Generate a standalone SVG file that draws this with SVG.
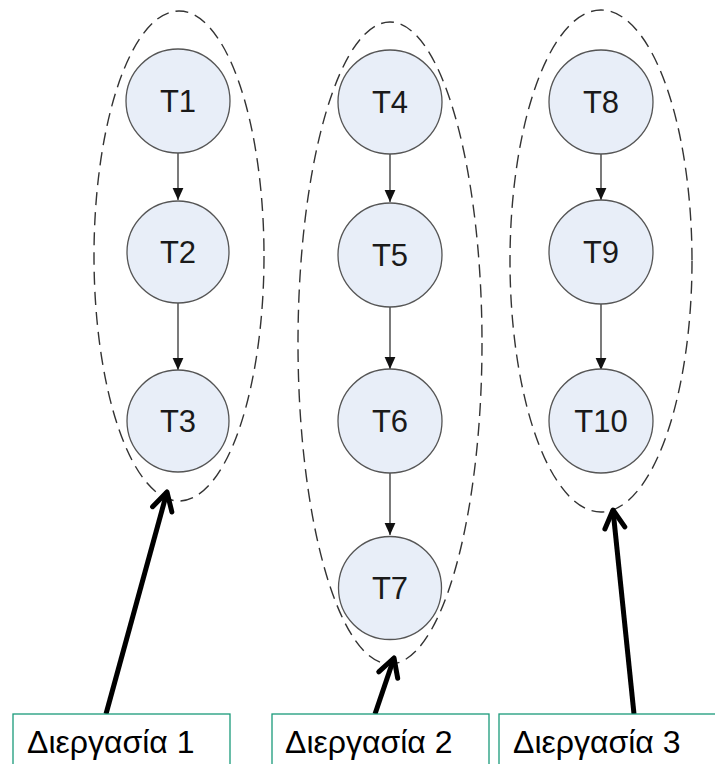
<svg xmlns="http://www.w3.org/2000/svg" width="715" height="764" viewBox="0 0 715 764">
<defs>
<style>
.node circle{fill:#e8eef8;stroke:#555;stroke-width:1.3}
.node text{font-family:"Liberation Sans",Arial,sans-serif;font-size:31px;fill:#1a1a1a;text-anchor:middle}
.group ellipse{fill:none;stroke:#333;stroke-width:1.4;stroke-dasharray:13 7}
.edge{stroke:#333;stroke-width:1.3;fill:none;marker-end:url(#ah)}
.ptr{stroke:#000;stroke-width:5;fill:none;marker-end:url(#chev)}
.label rect{fill:#fff;stroke:#1a9a7a;stroke-width:1.3}
.label text{font-family:"Liberation Sans",Arial,sans-serif;font-size:32px;fill:#000}
</style>
<marker id="ah" markerUnits="userSpaceOnUse" markerWidth="12" markerHeight="12" viewBox="-10 -5 10 10" refX="0" refY="0" orient="auto">
<path d="M-10,-4.5 L0,0 L-10,4.5 Z" fill="#111"/>
</marker>
<marker id="chev" markerUnits="userSpaceOnUse" markerWidth="30" markerHeight="30" viewBox="-22 -15 26 30" refX="0" refY="0" orient="auto">
<path d="M-18,-10 L0,0 L-18,10" fill="none" stroke="#000" stroke-width="5" stroke-linecap="round" stroke-linejoin="round"/>
</marker>
</defs>
<rect width="715" height="764" fill="#fff"/>
<g id="groups" class="group">
<ellipse id="process1-outline" cx="179" cy="256" rx="85" ry="245"/>
<ellipse id="process2-outline" cx="390" cy="343" rx="92" ry="321"/>
<ellipse id="process3-outline" cx="601" cy="261" rx="91" ry="251"/>
</g>
<g id="connectors">
<line class="edge" x1="178" y1="152" x2="178" y2="200"/>
<line class="edge" x1="178" y1="303" x2="178" y2="370"/>
<line class="edge" x1="390" y1="153" x2="390" y2="202"/>
<line class="edge" x1="390" y1="306" x2="390" y2="369"/>
<line class="edge" x1="390" y1="473" x2="390" y2="535"/>
<line class="edge" x1="601" y1="153" x2="601" y2="200"/>
<line class="edge" x1="601" y1="304" x2="601" y2="370"/>
<line class="ptr" x1="106" y1="714" x2="167" y2="492"/>
<line class="ptr" x1="375" y1="714" x2="394" y2="658"/>
<line class="ptr" x1="634" y1="714" x2="613" y2="510"/>
</g>
<g id="T1" class="node"><circle cx="178" cy="101" r="52"/><text x="178" y="112">T1</text></g>
<g id="T2" class="node"><circle cx="178" cy="252" r="51"/><text x="178" y="263">T2</text></g>
<g id="T3" class="node"><circle cx="178" cy="421" r="51"/><text x="178" y="432">T3</text></g>
<g id="T4" class="node"><circle cx="390" cy="102" r="52"/><text x="390" y="113">T4</text></g>
<g id="T5" class="node"><circle cx="390" cy="255" r="52"/><text x="390" y="266">T5</text></g>
<g id="T6" class="node"><circle cx="390" cy="421" r="52"/><text x="390" y="432">T6</text></g>
<g id="T7" class="node"><circle cx="390" cy="588" r="51.5"/><text x="390" y="599">T7</text></g>
<g id="T8" class="node"><circle cx="601" cy="102" r="52"/><text x="601" y="113">T8</text></g>
<g id="T9" class="node"><circle cx="601" cy="252" r="52"/><text x="601" y="263">T9</text></g>
<g id="T10" class="node"><circle cx="601" cy="421" r="52"/><text x="601" y="432">T10</text></g>
<g id="label1" class="label"><rect x="13" y="714" width="217" height="60"/><text x="27" y="753">Διεργασία 1</text></g>
<g id="label2" class="label"><rect x="272" y="714" width="217" height="60"/><text x="285" y="753">Διεργασία 2</text></g>
<g id="label3" class="label"><rect x="499" y="714" width="220" height="60"/><text x="513" y="753">Διεργασία 3</text></g>
</svg>
